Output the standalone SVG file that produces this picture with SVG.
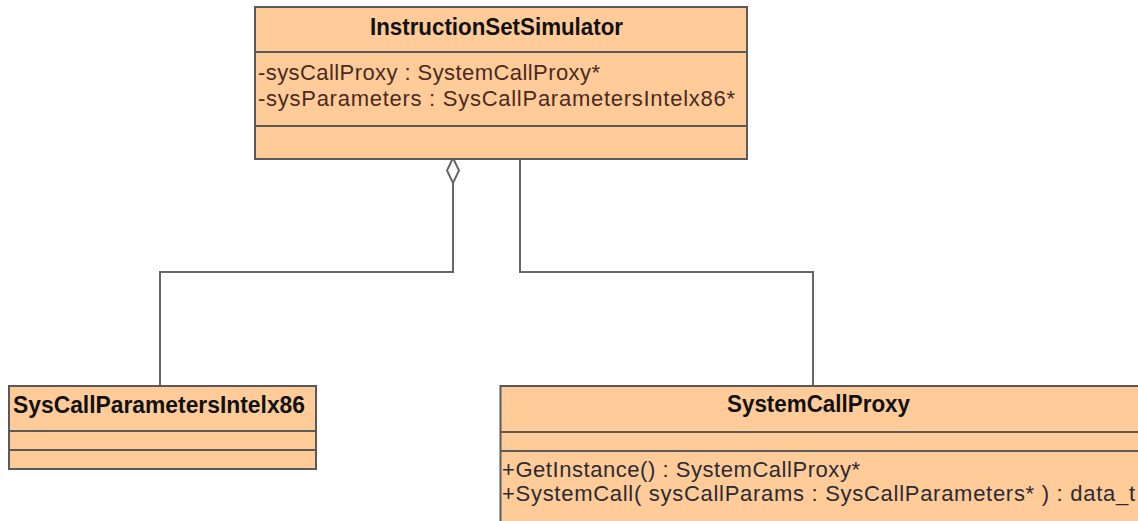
<svg xmlns="http://www.w3.org/2000/svg" width="1138" height="521" viewBox="0 0 1138 521">
<style>
.box{fill:#FFCC99;stroke:#5a5a5a;stroke-width:2}
.sep{stroke:#5a5a5a;stroke-width:2}
.conn{fill:none;stroke:#666;stroke-width:2}
.title{font-family:"Liberation Sans",Arial,sans-serif;font-weight:bold;font-size:23px;fill:#111}
.attr{font-family:"Liberation Sans",Arial,sans-serif;font-size:22px;fill:#4a2a22}
.op{font-family:"Liberation Sans",Arial,sans-serif;font-size:22px;fill:#2b2b33}
</style>
<rect width="1138" height="521" fill="#fff"/>
<g id="connectors">
<polyline class="conn" points="453,183 453,272 160,272 160,386"/>
<polygon points="453,158 459,170.5 453,183 447,170.5" fill="#fff" stroke="#666" stroke-width="2"/>
<polyline class="conn" points="520,159 520,272 813,272 813,386"/>
</g>
<g id="InstructionSetSimulator">
<rect class="box" x="255" y="7" width="492" height="152"/>
<line class="sep" x1="255" y1="52" x2="747" y2="52"/>
<line class="sep" x1="255" y1="126" x2="747" y2="126"/>
<text class="title" x="370" y="35" textLength="253" lengthAdjust="spacingAndGlyphs">InstructionSetSimulator</text>
<text class="attr" x="258" y="80" textLength="342" lengthAdjust="spacing">-sysCallProxy : SystemCallProxy*</text>
<text class="attr" x="258" y="106" textLength="477" lengthAdjust="spacing">-sysParameters : SysCallParametersIntelx86*</text>
</g>
<g id="SysCallParametersIntelx86">
<rect class="box" x="9" y="386" width="307" height="83"/>
<line class="sep" x1="9" y1="431" x2="316" y2="431"/>
<line class="sep" x1="9" y1="450" x2="316" y2="450"/>
<text class="title" x="13" y="413" textLength="292" lengthAdjust="spacingAndGlyphs">SysCallParametersIntelx86</text>
</g>
<g id="SystemCallProxy">
<rect class="box" x="500.5" y="386" width="660" height="160"/>
<line class="sep" x1="500" y1="432" x2="1140" y2="432"/>
<line class="sep" x1="500" y1="451" x2="1140" y2="451"/>
<text class="title" x="727" y="412" textLength="183" lengthAdjust="spacingAndGlyphs">SystemCallProxy</text>
<text class="op" x="502" y="477" textLength="358" lengthAdjust="spacing">+GetInstance() : SystemCallProxy*</text>
<text class="op" x="502" y="501" textLength="633" lengthAdjust="spacing">+SystemCall( sysCallParams : SysCallParameters* ) : data_t</text>
</g>
</svg>
